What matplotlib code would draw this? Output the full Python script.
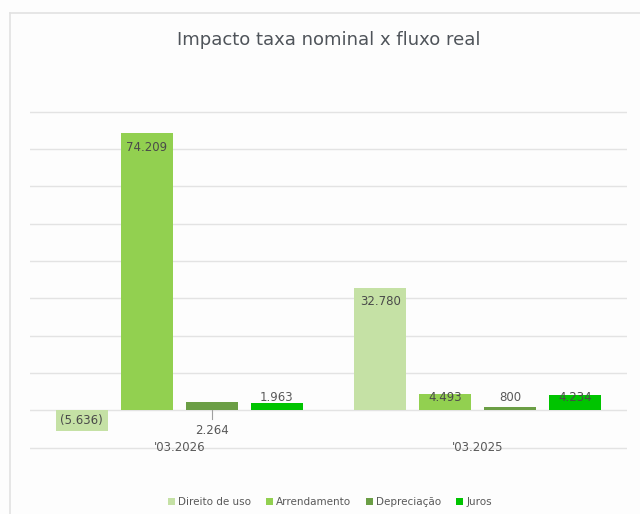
import matplotlib.pyplot as plt
from matplotlib.patches import Patch
from matplotlib.lines import Line2D
import numpy as np

# Dados do gráfico
periodos = ["'03.2026", "'03.2025"]
series = ['Direito de uso', 'Arrendamento', 'Depreciação', 'Juros']
direito_uso = [-5636, 32780]
arrendamento = [74209, 4493]
depreciacao = [2264, 800]
juros = [1963, 4234]
valores = [direito_uso, arrendamento, depreciacao, juros]

cores = ['#c5e1a5', '#92d050', '#6b9e45', '#00c400']
cor_texto = '#595959'

def fmt(v):
    s = f'{abs(v):,}'.replace(',', '.')
    return f'({s})' if v < 0 else s

fig = plt.figure(figsize=(6.4, 5.14), dpi=100)
fig.patch.set_facecolor('#fdfdfd')

# área do gráfico (pixels medidos na referência)
W, H = 640, 514
y_lo, y_hi = -10500, 80500
px_por_un = (447.7 - 111.7) / 90000
base = 447.7 + 500 * px_por_un
topo = 111.7 - 500 * px_por_un
ax = fig.add_axes([30 / W, (H - base) / H, 597 / W, (base - topo) / H])
ax.set_facecolor('none')

x = np.arange(len(periodos))
passo = 0.218
largura = 0.174

for i, (nome, vals) in enumerate(zip(series, valores)):
    pos = x + (i - 1.5) * passo
    ax.bar(pos, vals, largura, color=cores[i], zorder=2)
    for j, v in enumerate(vals):
        xp = pos[j]
        if v > 20000:
            ax.annotate(fmt(v), (xp, v), xytext=(0, -10), textcoords='offset points',
                        ha='center', va='center', fontsize=8.5, color='#4a4a4a', zorder=3)
        elif v < 0:
            ax.annotate(fmt(v), (xp, v / 2), ha='center', va='center',
                        fontsize=8.5, color='#4a4a4a', zorder=3)
        elif i == 2 and j == 0:
            # rótulo deslocado abaixo com linha de chamada
            ax.plot([xp, xp], [0, -2200], color='#a0a0a0', lw=0.8, zorder=3)
            ax.annotate(fmt(v), (xp, -5500), ha='center', va='center',
                        fontsize=8.5, color=cor_texto, zorder=3)
        else:
            ax.annotate(fmt(v), (xp, 3500), ha='center', va='center',
                        fontsize=8.5, color='#4a4a4a' if v > 4000 else cor_texto, zorder=3)

ax.set_xlim(-0.5, 1.5)
ax.set_ylim(y_lo, y_hi)
ax.set_yticks(np.arange(-10000, 80001, 10000))
ax.yaxis.grid(True, color='#e3e3e3', lw=1, zorder=0)
ax.set_yticklabels([])
ax.tick_params(left=False, bottom=False, labelbottom=False)
for s in ax.spines.values():
    s.set_visible(False)

for k, p in enumerate(periodos):
    ax.text(x[k], -10000, p, ha='center', va='center', fontsize=8.5, color=cor_texto,
            bbox=dict(facecolor='none', edgecolor='none', pad=0))

# título
fig.text(329 / W, 1 - 40 / H, 'Impacto taxa nominal x fluxo real', ha='center', va='center',
         fontsize=13, color='#4f545a')

# borda do gráfico
fig.add_artist(Line2D([10 / W, 10 / W], [0, 1 - 13 / H], color='#e2e2e2', lw=1.2))
fig.add_artist(Line2D([10 / W, 1], [1 - 13 / H, 1 - 13 / H], color='#e2e2e2', lw=1.2))

handles = [Patch(facecolor=c, edgecolor='none') for c in cores]
fig.legend(handles, series, loc='center', bbox_to_anchor=(330 / W, 1 - 502 / H), ncol=4,
           frameon=False, fontsize=7.5, handlelength=0.7, handleheight=0.7,
           handletextpad=0.3, columnspacing=1.4, labelcolor=cor_texto)

fig.savefig('out.png', dpi=100, facecolor=fig.get_facecolor())
